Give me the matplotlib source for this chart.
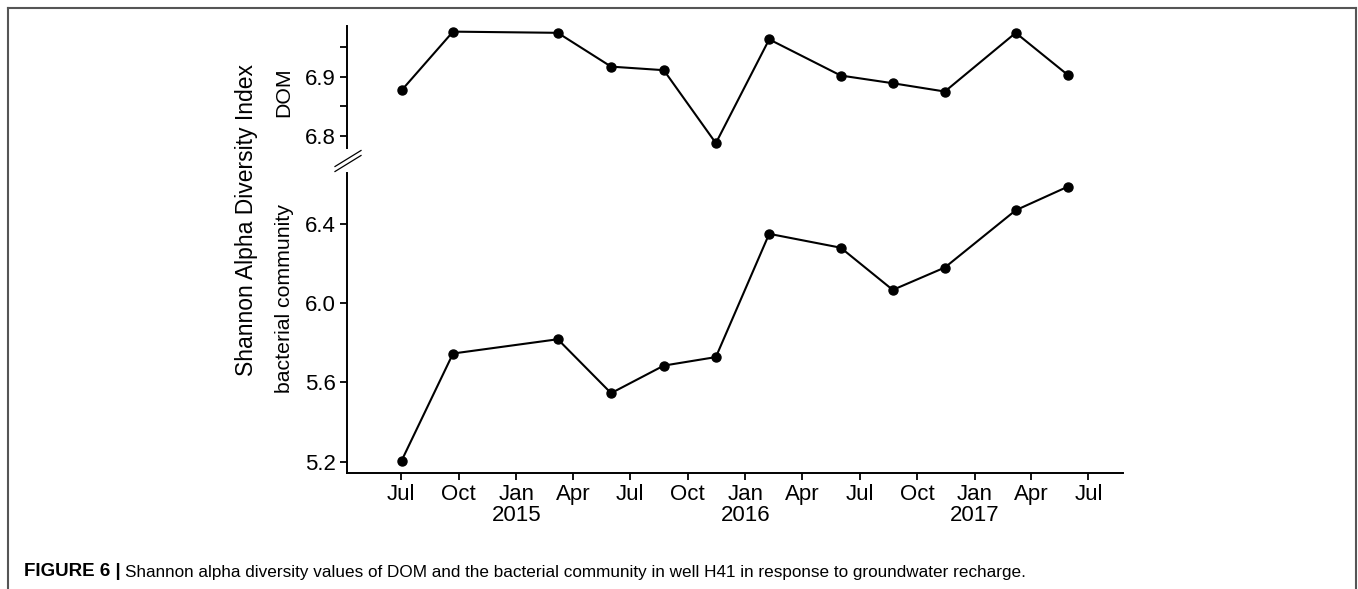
import numpy as np
import matplotlib
matplotlib.use("Agg")
import matplotlib.pyplot as plt
import matplotlib.dates as mdates
from matplotlib.lines import Line2D
from datetime import date

plt.rcParams['font.family'] = ['Liberation Sans', 'DejaVu Sans']

# sampling dates (well H41)
sample_dates = [date(2014, 7, 2), date(2014, 9, 22), date(2015, 3, 8), date(2015, 6, 1),
                date(2015, 8, 24), date(2015, 11, 15), date(2016, 2, 8), date(2016, 6, 1),
                date(2016, 8, 23), date(2016, 11, 14), date(2017, 3, 7), date(2017, 5, 29)]

# Shannon alpha diversity
dom_shannon = [6.877, 6.976, 6.974, 6.917, 6.911, 6.788, 6.963, 6.902, 6.889, 6.875, 6.974, 6.903]
bact_shannon = [5.205, 5.746, 5.818, 5.546, 5.685, 5.728, 6.350, 6.280, 6.067, 6.180, 6.469, 6.588]

dom_ticks = [6.8, 6.85, 6.9, 6.95]
dom_labels = ["6.8", "", "6.9", ""]
bact_ticks = [5.2, 5.6, 6.0, 6.4]
bact_labels = ["5.2", "5.6", "6.0", "6.4"]

x_ticks = [date(2014, 7, 1), date(2014, 10, 1), date(2015, 1, 1), date(2015, 4, 1),
           date(2015, 7, 1), date(2015, 10, 1), date(2016, 1, 1), date(2016, 4, 1),
           date(2016, 7, 1), date(2016, 10, 1), date(2017, 1, 1), date(2017, 4, 1),
           date(2017, 7, 1)]
x_labels = ["Jul", "Oct", "Jan\n2015", "Apr", "Jul", "Oct", "Jan\n2016", "Apr",
            "Jul", "Oct", "Jan\n2017", "Apr", "Jul"]

FS = 16
LFS = 15.3
fig = plt.figure(figsize=(13.58, 5.89), dpi=100)
W, H = 1358.0, 589.0

def px_axes(x0, y0, x1, y1):
    return fig.add_axes([x0 / W, 1 - y1 / H, (x1 - x0) / W, (y1 - y0) / H])

ax_top = px_axes(347, 26, 1123, 148)
ax_bot = px_axes(347, 173, 1123, 473)

xlim = (mdates.date2num(date(2014, 4, 6)), mdates.date2num(date(2017, 8, 25)))

for ax in (ax_top, ax_bot):
    for s in ("top", "right"):
        ax.spines[s].set_visible(False)
    ax.spines["left"].set_linewidth(1.4)
    ax.spines["bottom"].set_linewidth(1.4)
    ax.tick_params(axis="both", length=5, width=1.3, labelsize=FS, pad=3, color="black")
    ax.set_xlim(*xlim)

ax_top.plot(mdates.date2num(sample_dates), dom_shannon, color="black", lw=1.5,
            marker="o", ms=6.5)
ax_top.set_ylim(6.7798, 6.9855)
ax_top.set_yticks(dom_ticks)
ax_top.set_yticklabels(dom_labels)
ax_top.spines["bottom"].set_visible(False)
ax_top.set_xticks([])

ax_bot.plot(mdates.date2num(sample_dates), bact_shannon, color="black", lw=1.5,
            marker="o", ms=6.5)
ax_bot.set_ylim(5.143, 6.657)
ax_bot.set_yticks(bact_ticks)
ax_bot.set_yticklabels(bact_labels)
ax_bot.set_xticks(mdates.date2num(x_ticks))
ax_bot.set_xticklabels(x_labels, linespacing=1.0)

# axis break marks
for dy in (-2.5, 2.5):
    fig.add_artist(Line2D([335 / W, 361 / W], [1 - (169 + dy) / H, 1 - (153 + dy) / H],
                          color="black", lw=0.9))

# y labels
fig.text(246 / W, 1 - 220 / H, "Shannon Alpha Diversity Index", rotation=90,
         ha="center", va="center", fontsize=16.5)
fig.text(284 / W, 1 - 92 / H, "DOM", rotation=90, ha="center", va="center", fontsize=LFS)
fig.text(284 / W, 1 - 299 / H, "bacterial community", rotation=90, ha="center",
         va="center", fontsize=LFS)

# frame around figure + caption
frame_col = "#555555"
fig.add_artist(Line2D([8 / W, 1356 / W], [1 - 8 / H, 1 - 8 / H], color=frame_col, lw=1.5))
fig.add_artist(Line2D([8 / W, 8 / W], [1 - 8 / H, 0], color=frame_col, lw=1.5))
fig.add_artist(Line2D([1356 / W, 1356 / W], [1 - 8 / H, 0], color=frame_col, lw=1.5))

cap_y = 1 - 572 / H
t = fig.text(24 / W, cap_y, "FIGURE 6 |", fontsize=13.5, fontweight="bold",
             ha="left", va="center")
fig.canvas.draw()
bb = t.get_window_extent()
fig.text((bb.x1 + 4) / W, cap_y,
         "Shannon alpha diversity values of DOM and the bacterial community in well H41 "
         "in response to groundwater recharge.",
         fontsize=12.3, ha="left", va="center")

fig.savefig("out.png", dpi=100)
